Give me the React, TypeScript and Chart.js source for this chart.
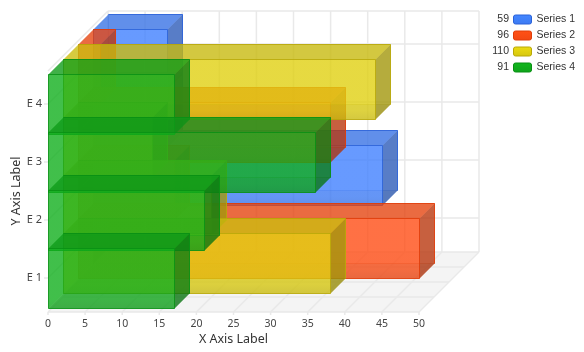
import React, { useEffect, useRef } from "react";
import { Chart, registerables } from "chart.js";

Chart.register(...registerables);

const categories = ["E 1", "E 2", "E 3", "E 4"];
const xTicks = { min: 0, max: 50, step: 5 };
const seriesNames = ["Series 1", "Series 2", "Series 3", "Series 4"];
const series1 = [0, 39, 10, 10];
const series2 = [46, 13, 34, 3];
const series3 = [36, 20, 12, 42];
const series4 = [17, 21, 36, 17];
const seriesValues = [series1, series2, series3, series4];
const seriesColors = ["#4080ff", "#ff4c14", "#e0d010", "#10ac1c"];
const edgeColors = ["#2a62d8", "#e03c08", "#b8a808", "#089014"];

const DEPTH = 15;
const FONT = '"Noto Sans", sans-serif';
const GRID = "#e9e9e9";

function rgba(hex: string, shade: number, a: number) {
  const n = parseInt(hex.slice(1), 16);
  const f = (v: number) => Math.min(255, Math.round(v * shade));
  return `rgba(${f((n >> 16) & 255)},${f((n >> 8) & 255)},${f(n & 255)},${a})`;
}

function poly(ctx: CanvasRenderingContext2D, pts: number[][], fill?: any, stroke?: string) {
  ctx.beginPath();
  pts.forEach((p, i) => (i ? ctx.lineTo(p[0], p[1]) : ctx.moveTo(p[0], p[1])));
  ctx.closePath();
  if (fill) {
    ctx.fillStyle = fill;
    ctx.fill();
  }
  if (stroke) {
    ctx.strokeStyle = stroke;
    ctx.lineWidth = 1;
    ctx.stroke();
  }
}

function line(ctx: CanvasRenderingContext2D, x1: number, y1: number, x2: number, y2: number) {
  ctx.beginPath();
  ctx.moveTo(x1, y1);
  ctx.lineTo(x2, y2);
  ctx.stroke();
}

function drawWalls(chart: any) {
  const ctx: CanvasRenderingContext2D = chart.ctx;
  const xs = chart.scales.x;
  const ys = chart.scales.y;
  const n = seriesNames.length;
  const D = DEPTH * n;
  const x0 = xs.getPixelForValue(xTicks.min);
  const x1 = xs.getPixelForValue(xTicks.max);
  const bottom = ys.bottom + 5;
  const top = ys.top - 4;
  ctx.save();
  poly(ctx, [[x0, bottom], [x0 + D, bottom - D], [x1 + D, bottom - D], [x1, bottom]], "#f4f4f4");
  ctx.strokeStyle = GRID;
  ctx.lineWidth = 1.5;
  for (let v = xTicks.min; v <= xTicks.max; v += xTicks.step) {
    const x = xs.getPixelForValue(v);
    line(ctx, x + D, top - D, x + D, bottom - D);
    line(ctx, x, bottom, x + D, bottom - D);
    line(ctx, x, bottom, x, bottom + 3);
  }
  for (let k = 0; k <= n; k++) {
    const d = DEPTH * k;
    line(ctx, x0 + d, bottom - d, x1 + d, bottom - d);
  }
  line(ctx, x0 + D, top - D, x1 + D, top - D);
  line(ctx, x0, top, x0 + D, top - D);
  categories.forEach((_, i) => {
    const y = ys.getPixelForTick(i);
    line(ctx, x0 + D, y - D, x1 + D, y - D);
    line(ctx, x0, y, x0 + D, y - D);
    line(ctx, x0 - 4, y, x0, y);
  });
  ctx.restore();
}

function drawBox(ctx: CanvasRenderingContext2D, bar: any, si: number, a: number) {
  const color = seriesColors[si];
  const edge = rgba(edgeColors[si], 1, 0.85);
  const faint = rgba(edgeColors[si], 1, 0.35);
  const offset = DEPTH * (seriesNames.length - 1 - si);
  const l = Math.round(bar.base) + 0.5 + offset;
  const r = Math.round(bar.x) + 0.5 + offset;
  const t = Math.round(bar.y - bar.height / 2) + 0.5 - offset;
  const b = Math.round(bar.y + bar.height / 2) + 0.5 - offset;
  const d = DEPTH;
  // back, left, bottom, right, top, front
  poly(ctx, [[l + d, t - d], [r + d, t - d], [r + d, b - d], [l + d, b - d]], rgba(color, 1, a), faint);
  poly(ctx, [[l, t], [l + d, t - d], [l + d, b - d], [l, b]], rgba(color, 1.05, a));
  poly(ctx, [[l, b], [l + d, b - d], [r + d, b - d], [r, b]], rgba(color, 0.85, a));
  poly(ctx, [[r, t], [r + d, t - d], [r + d, b - d], [r, b]], rgba(color, 0.6, a));
  poly(ctx, [[l, t], [l + d, t - d], [r + d, t - d], [r, t]], rgba(color, 0.85, a));
  ctx.strokeStyle = edge;
  ctx.lineWidth = 1;
  line(ctx, l + d, t - d, r + d, t - d);
  line(ctx, r + d, t - d, r + d, b - d);
  const g = ctx.createLinearGradient(0, t, 0, b);
  g.addColorStop(0, rgba(color, 1, a));
  g.addColorStop(0.85, rgba(color, 1, a));
  g.addColorStop(1, rgba(color, 0.92, a));
  poly(ctx, [[l, t], [r, t], [r, b], [l, b]], g, edge);
}

function drawLegend(chart: any) {
  const ctx: CanvasRenderingContext2D = chart.ctx;
  ctx.save();
  ctx.font = "10.5px 'Liberation Sans', sans-serif";
  ctx.textBaseline = "middle";
  chart.data.datasets.forEach((ds: any, i: number) => {
    const y = 19.5 + i * 16;
    const total = ds.data.reduce((s: number, v: number) => s + v, 0);
    ctx.fillStyle = "#333";
    ctx.textAlign = "right";
    ctx.fillText(String(total), 509, y);
    ctx.textAlign = "left";
    ctx.fillText(ds.label, 536.5, y);
    const g = ctx.createLinearGradient(0, y - 4, 0, y + 5);
    g.addColorStop(0, rgba(seriesColors[i], 1.05, 1));
    g.addColorStop(1, rgba(seriesColors[i], 0.95, 1));
    ctx.beginPath();
    ctx.roundRect(513.5, y - 4.5, 18, 9, 2);
    ctx.fillStyle = g;
    ctx.fill();
    ctx.strokeStyle = edgeColors[i];
    ctx.lineWidth = 1;
    ctx.stroke();
  });
  ctx.restore();
}

const boxes3d = {
  id: "boxes3d",
  beforeDatasetsDraw(chart: any) {
    const ctx: CanvasRenderingContext2D = chart.ctx;
    drawWalls(chart);
    ctx.save();
    chart.data.datasets.forEach((_: any, si: number) => {
      const bars = chart.getDatasetMeta(si).data;
      for (let i = bars.length - 1; i >= 0; i--) drawBox(ctx, bars[i], si, 0.55);
    });
    ctx.restore();
    drawLegend(chart);
    return false;
  },
};

export default function App() {
  const ref = useRef<HTMLCanvasElement>(null);
  useEffect(() => {
    document.body.style.margin = "0";
    const chart = new Chart(ref.current as HTMLCanvasElement, {
      type: "bar",
      data: {
        labels: categories,
        datasets: seriesNames.map((label, i) => ({
          label,
          data: seriesValues[i],
          backgroundColor: seriesColors[i],
          borderColor: edgeColors[i],
          barThickness: 60,
          grouped: false,
        })),
      },
      plugins: [boxes3d],
      options: {
        indexAxis: "y",
        responsive: false,
        animation: false,
        layout: { padding: { top: 75, right: 165, left: 0, bottom: 0 } },
        plugins: { legend: { display: false }, title: { display: false }, tooltip: { enabled: false } },
        scales: {
          x: {
            type: "linear",
            min: xTicks.min,
            max: xTicks.max,
            grid: { display: false, drawTicks: false },
            border: { display: false },
            ticks: { stepSize: xTicks.step, padding: 11, color: "#444", maxRotation: 0, font: { family: FONT, size: 10.5 } },
            title: { display: true, text: "X Axis Label", color: "#333", padding: { top: 0, bottom: 5 }, font: { family: FONT, size: 12.5 } },
            afterFit: (s: any) => { s.height = 45; },
          },
          y: {
            type: "category",
            reverse: true,
            grid: { display: false, drawTicks: false },
            border: { display: false },
            ticks: { padding: 6, color: "#444", font: { family: FONT, size: 11 } },
            title: { display: true, text: "Y Axis Label", color: "#333", padding: { top: 9, bottom: 0 }, font: { family: FONT, size: 12.5 } },
            afterFit: (s: any) => { s.width = 48; },
          },
        },
      },
    } as any);
    return () => chart.destroy();
  }, []);
  return <canvas ref={ref} width={584} height={352} style={{ display: "block" }} />;
}
